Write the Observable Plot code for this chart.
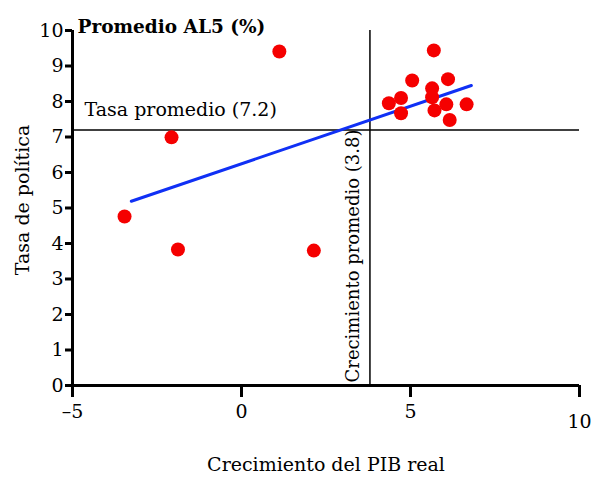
<!DOCTYPE html>
<html>
<head>
<meta charset="utf-8">
<script src="https://cdn.jsdelivr.net/npm/d3@7"></script>
<script src="https://cdn.jsdelivr.net/npm/@observablehq/plot@0.6"></script>
<style>
  html, body { margin: 0; padding: 0; background: #fff; }
  #chart svg { display: block; }
  #chart svg text { font-family: "DejaVu Serif", "Liberation Serif", serif; }
</style>
</head>
<body>
<div id="chart"></div>
<script>
// Crecimiento del PIB real (x) vs. tasa de política (y), AL5
const gdpGrowth = [1.12, -2.07, -3.46, -1.88, 2.14,
                   5.69, 5.05, 6.11, 5.64, 4.72, 4.36, 5.64, 4.72, 5.71, 6.06, 6.66, 6.16];
const policyRate = [9.41, 6.99, 4.76, 3.83, 3.80,
                    9.44, 8.59, 8.63, 8.37, 8.10, 7.95, 8.12, 7.67, 7.75, 7.92, 7.92, 7.48];

// Recta de ajuste (extremos)
const fitX = [-3.26, 6.8];
const fitY = [5.19, 8.45];

// Promedios
const avgGrowth = 3.8;
const avgRate = 7.2;

const xTicks = [-5, 0, 5, 10];
const yTicks = [0, 1, 2, 3, 4, 5, 6, 7, 8, 9, 10];

const points = gdpGrowth.map((g, i) => ({g, r: policyRate[i]}));
const fit = fitX.map((x, i) => ({x, y: fitY[i]}));

const font = '"DejaVu Serif", "Liberation Serif", serif';
const fmt = d => d < 0 ? "\u2013" + Math.abs(d) : String(d);

const chart = Plot.plot({
  width: 600,
  height: 479,
  marginLeft: 72,
  marginRight: 21,
  marginTop: 30,
  marginBottom: 94,
  style: {fontFamily: font, fontSize: "18px", color: "#000", background: "#fff"},
  x: {domain: [-5, 10]},
  y: {domain: [0, 10]},
  marks: [
    // Ejes
    Plot.axisY({ticks: yTicks, tickSize: 7, tickPadding: 2, strokeWidth: 3, label: null, tickFormat: fmt, fontSize: 19, fontFamily: font}),
    Plot.axisX({ticks: xTicks.filter(d => d !== 10), tickSize: 12, tickPadding: 7, strokeWidth: 3, label: null, tickFormat: fmt, fontSize: 19, fontFamily: font}),
    Plot.axisX({ticks: xTicks.filter(d => d === 10), tickSize: 12, tickPadding: 17, strokeWidth: 3, label: null, tickFormat: fmt, fontSize: 19, fontFamily: font}),
    Plot.ruleX([-5], {stroke: "#000", strokeWidth: 3}),
    Plot.ruleY([0], {stroke: "#000", strokeWidth: 3}),

    // Líneas de promedio
    Plot.ruleY([avgRate], {stroke: "#000", strokeWidth: 1.5}),
    Plot.ruleX([avgGrowth], {stroke: "#000", strokeWidth: 1.5}),
    Plot.text([avgRate], {x: -5, y: d => d, text: d => `Tasa promedio (${d})`, textAnchor: "start", dx: 12, dy: -20, fontSize: 19, fontFamily: font}),
    Plot.text([avgGrowth], {x: d => d, y: 0, text: d => `Crecimiento promedio (${d})`, rotate: -90, textAnchor: "start", dx: -17, dy: -3, fontSize: 18, fontFamily: font}),

    // Recta de ajuste
    Plot.line(fit, {x: "x", y: "y", stroke: "#1030f5", strokeWidth: 3}),

    // Observaciones
    Plot.dot(points, {x: "g", y: "r", r: 7, fill: "#f50000", stroke: "none"}),

    // Títulos
    Plot.text(["Promedio AL5 (%)"], {frameAnchor: "top-left", text: d => d, textAnchor: "start", dx: 5, dy: -11, fontWeight: "bold", fontSize: 18.5, fontFamily: font}),
    Plot.text(["Tasa de política"], {frameAnchor: "left", text: d => d, textAnchor: "middle", rotate: -90, dx: -50, dy: -8, fontSize: 19, fontFamily: font}),
    Plot.text(["Crecimiento del PIB real"], {frameAnchor: "bottom", text: d => d, dy: 85, fontSize: 19, fontFamily: font})
  ]
});

document.getElementById("chart").appendChild(chart);
</script>
</body>
</html>
